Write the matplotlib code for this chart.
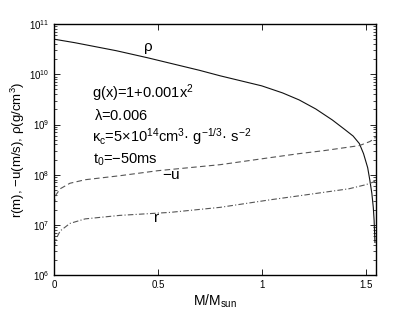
import numpy as np
import matplotlib
matplotlib.use("Agg")
import matplotlib.pyplot as plt
from matplotlib.ticker import LogLocator, NullFormatter

plt.rcParams['font.family'] = ['Liberation Sans', 'DejaVu Sans']
plt.rcParams['mathtext.fontset'] = 'custom'
plt.rcParams['mathtext.rm'] = 'Liberation Sans'
plt.rcParams['mathtext.it'] = 'Liberation Sans'

# values (log10 of the quantity)
x_rho = [0, 0.1, 0.2, 0.3, 0.45, 0.6, 0.7, 0.8, 0.9, 1.0, 1.1, 1.18, 1.26, 1.34, 1.4,
         1.44, 1.47, 1.49, 1.51, 1.52, 1.53, 1.537, 1.541, 1.545]
lg_rho = [10.70, 10.63, 10.55, 10.47, 10.33, 10.18, 10.08, 9.97, 9.87, 9.77, 9.63, 9.49, 9.31, 9.09, 8.9,
          8.77, 8.62, 8.42, 8.14, 7.9, 7.63, 7.35, 7.09, 6.65]

x_u = [0, 0.01, 0.03, 0.077, 0.15, 0.317, 0.5, 0.8, 1.04, 1.18, 1.3, 1.47, 1.52, 1.543, 1.548]
lg_u = [7.4, 7.6, 7.72, 7.83, 7.9, 7.98, 8.08, 8.2, 8.34, 8.42, 8.48, 8.58, 8.66, 8.72, 8.76]

x_r = [0, 0.01, 0.03, 0.077, 0.15, 0.317, 0.56, 0.8, 1.04, 1.18, 1.3, 1.42, 1.5, 1.535, 1.548]
lg_r = [6.55, 6.72, 6.88, 7.03, 7.12, 7.19, 7.25, 7.35, 7.5, 7.58, 7.65, 7.72, 7.8, 7.85, 7.88]

fig = plt.figure(figsize=(4.15, 3.13), dpi=100)
ax = fig.add_axes([0.130, 0.121, 0.776, 0.802])

ax.semilogy(x_rho, 10.0**np.array(lg_rho), '-', color='#111111', lw=0.8)
ax.semilogy(x_u, 10.0**np.array(lg_u), '--', color='#555555', lw=0.8, dashes=(5, 3))
ax.semilogy(x_r, 10.0**np.array(lg_r), '-.', color='#555555', lw=0.8, dashes=(5, 2, 1, 2))

ax.set_xlim(0, 1.55)
ax.set_ylim(1e6, 1e11)
ax.set_xticks([0, 0.5, 1, 1.5])
ax.set_xticklabels(['0', '0.5', '1', '1.5'])
ax.yaxis.set_major_locator(LogLocator(base=10, numticks=10))
ax.yaxis.set_minor_locator(LogLocator(base=10, subs=np.arange(2, 10), numticks=20))
ax.yaxis.set_minor_formatter(NullFormatter())
ax.tick_params(which='both', direction='in', top=True, right=True, labelsize=7)
ax.tick_params(which='major', length=4, width=0.6)
ax.tick_params(which='minor', length=2, width=0.5)
ax.tick_params(axis='x', which='minor', bottom=False, top=False)
for s in ax.spines.values():
    s.set_linewidth(1.0)

ax.set_xlabel(r'M/M$_{\rm sun}$', fontsize=10, labelpad=2)
ax.set_ylabel(r'r(m), $-$u(m/s), $\rho$(g/cm$^3$)', fontsize=9.5)
ax.yaxis.set_label_coords(-0.085, 0.5)

ax.text(0.453, 3.24e10, r'$\rho$', fontsize=11, ha='center', va='center')
ax.text(0.566, 1.0e8, r'$-$u', fontsize=11, ha='center', va='center')
ax.text(0.494, 1.36e7, 'r', fontsize=11, ha='center', va='center')

ax.text(0.181, 10**9.533, r'g(x)=1+0.001x$^2$', fontsize=10.5, va='baseline')
ax.text(0.195, 10**9.08, r'$\lambda$=0.006', fontsize=10.5, va='baseline')
ax.text(0.181, 10**8.667, r'$\kappa_{\rm c}$=5$\times$10$^{14}$cm$^3$· g$^{-1/3}$· s$^{-2}$', fontsize=10.5, va='baseline')
ax.text(0.19, 10**8.213, r't$_0$=$-$50ms', fontsize=10.5, va='baseline')

fig.savefig('out.png', dpi=100)
